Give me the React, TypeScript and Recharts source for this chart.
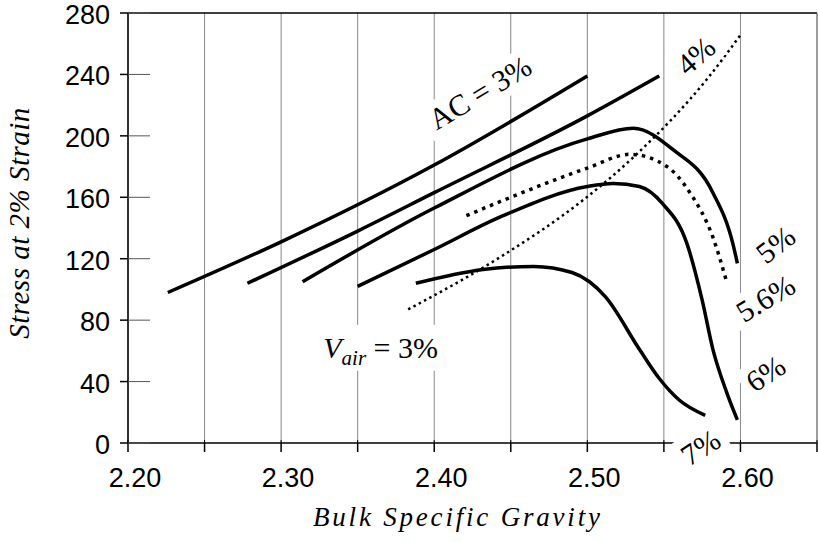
import React from "react";
import { LineChart, Line, XAxis, YAxis, CartesianGrid, ReferenceLine, ReferenceDot } from "recharts";

// axis ticks
const xTicks = [2.2, 2.25, 2.3, 2.35, 2.4, 2.45, 2.5, 2.55, 2.6, 2.65];
const xTickLabels = ["2.20", "", "2.30", "", "2.40", "", "2.50", "", "2.60", ""];
const yTicks = [0, 40, 80, 120, 160, 200, 240, 280];

// asphalt content curves (bulk specific gravity vs stress at 2% strain)
const ac3X = [2.226, 2.3, 2.4, 2.5];
const ac3Y = [98, 131, 181, 239];

const ac4X = [2.278, 2.35, 2.4, 2.5, 2.547];
const ac4Y = [104, 138, 163, 213, 239];

const ac5X = [2.314, 2.4, 2.5, 2.53, 2.556, 2.582, 2.595, 2.598];
const ac5Y = [105, 153, 198, 205, 191, 163, 130, 117];

const ac56X = [2.421, 2.445, 2.5, 2.528, 2.552, 2.567, 2.582, 2.591];
const ac56Y = [148, 158, 179, 188, 180, 163, 134, 105];

const ac6X = [2.35, 2.4, 2.445, 2.5, 2.517, 2.534, 2.549, 2.565, 2.575, 2.582, 2.591, 2.598];
const ac6Y = [102, 126, 148, 167, 169, 167, 156, 130, 93, 61, 33, 15];

const ac7X = [2.388, 2.432, 2.465, 2.49, 2.512, 2.534, 2.547, 2.56, 2.577];
const ac7Y = [104, 113, 115, 111, 95, 61, 42, 28, 18];

// air voids line
const airX = [2.383, 2.443, 2.497, 2.53, 2.579, 2.601];
const airY = [87, 121, 158, 186, 238, 267];

const toPoints = (xs: number[], ys: number[]) => xs.map((x, i) => ({ x, y: ys[i] }));

const series = [
  { key: "ac3", data: toPoints(ac3X, ac3Y), width: 3.5, dash: undefined },
  { key: "ac4", data: toPoints(ac4X, ac4Y), width: 3.5, dash: undefined },
  { key: "ac5", data: toPoints(ac5X, ac5Y), width: 3.5, dash: undefined },
  { key: "ac56", data: toPoints(ac56X, ac56Y), width: 3.5, dash: "3.5 5" },
  { key: "ac6", data: toPoints(ac6X, ac6Y), width: 3.5, dash: undefined },
  { key: "ac7", data: toPoints(ac7X, ac7Y), width: 3.5, dash: undefined },
  { key: "air", data: toPoints(airX, airY), width: 2.5, dash: "2.5 3.5" },
];

const sans = "'Liberation Sans', Arial, sans-serif";
const serif = "'Liberation Serif', 'Times New Roman', serif";

const XTick = (props: any) => {
  const { x, y, payload } = props;
  const i = xTicks.findIndex((t) => Math.abs(t - payload.value) < 1e-6);
  return (
    <g>
      <line x1={x} x2={x} y1={y - 12} y2={y - 9} stroke="#000" />
      <text x={x + 7} y={y + 35} textAnchor="middle" fontFamily={sans} fontSize={27} fill="#000">
        {i >= 0 ? xTickLabels[i] : ""}
      </text>
    </g>
  );
};

const YTick = (props: any) => {
  const { x, y, payload } = props;
  return (
    <g>
      <line x1={x + 18} x2={x + 40} y1={y} y2={y} stroke="#555" />
      <text x={x} y={y + 11} textAnchor="end" fontFamily={sans} fontSize={27} fill="#000">
        {payload.value}
      </text>
    </g>
  );
};

const RightTick = (props: any) => {
  const { x, y } = props;
  return <line x1={x - 20} x2={x} y1={y} y2={y} stroke="#555" />;
};

type Note = {
  x: number;
  y: number;
  angle: number;
  w: number;
  h: number;
  text: React.ReactNode;
};

const notes: Note[] = [
  { x: 2.43, y: 228, angle: -31, w: 128, h: 36, text: "AC = 3%" },
  { x: 2.571, y: 252, angle: -41, w: 52, h: 36, text: "4%" },
  { x: 2.623, y: 129, angle: -38, w: 52, h: 36, text: "5%" },
  { x: 2.6165, y: 94, angle: -31, w: 76, h: 36, text: "5.6%" },
  { x: 2.6165, y: 45, angle: -34, w: 52, h: 36, text: "6%" },
  { x: 2.574, y: -3, angle: -33, w: 54, h: 38, text: "7%" },
  {
    x: 2.365,
    y: 62,
    angle: 0,
    w: 130,
    h: 46,
    text: (
      <>
        <tspan fontStyle="italic">V</tspan>
        <tspan fontStyle="italic" fontSize={21} dy={7}>air</tspan>
        <tspan dy={-7}> = 3%</tspan>
      </>
    ),
  },
];

const noteShape = (note: Note) => (props: any) => {
  const { cx, cy } = props;
  return (
    <g transform={`translate(${cx},${cy}) rotate(${note.angle})`}>
      <rect x={-note.w / 2} y={-note.h / 2} width={note.w} height={note.h} fill="#fff" />
      <text x={0} y={10} textAnchor="middle" fontFamily={serif} fontSize={30} fill="#000">
        {note.text}
      </text>
    </g>
  );
};

export default function App() {
  return (
    <div style={{ position: "absolute", left: 0, top: 0, width: 818, height: 542, background: "#fff" }}>
      <LineChart width={818} height={542} margin={{ top: 13, right: 0, bottom: 0, left: 0 }}>
        <CartesianGrid horizontal={false} stroke="#888" strokeWidth={1} />
        <XAxis
          type="number"
          dataKey="x"
          domain={[2.2, 2.65]}
          ticks={xTicks}
          interval={0}
          height={99}
          tickSize={9}
          tickMargin={0}
          tick={<XTick />}
          stroke="#000"
          strokeWidth={1.5}
          allowDataOverflow
        />
        <YAxis
          type="number"
          domain={[0, 280]}
          ticks={yTicks}
          interval={0}
          width={128}
          tickSize={8}
          tickMargin={10}
          tick={<YTick />}
          stroke="#000"
          strokeWidth={1.5}
          allowDataOverflow
        />
        <YAxis
          yAxisId="r"
          orientation="right"
          type="number"
          domain={[0, 280]}
          ticks={yTicks}
          interval={0}
          width={1}
          tickSize={0}
          tickMargin={0}
          tickLine={false}
          tick={<RightTick />}
          stroke="#777"
        />
        <ReferenceLine y={280} stroke="#000" strokeWidth={1.5} />
        {series.map((s) => (
          <Line
            key={s.key}
            data={s.data}
            dataKey="y"
            type="monotone"
            stroke="#000"
            strokeWidth={s.width}
            strokeDasharray={s.dash}
            dot={false}
            activeDot={false}
            isAnimationActive={false}
          />
        ))}
        {notes.map((n, i) => (
          <ReferenceDot key={i} x={n.x} y={n.y} r={1} ifOverflow="visible" shape={noteShape(n)} />
        ))}
      </LineChart>
      <div
        style={{
          position: "absolute",
          left: 313,
          top: 502,
          fontFamily: serif,
          fontStyle: "italic",
          fontSize: 27,
          letterSpacing: 2.8,
          whiteSpace: "nowrap",
          lineHeight: "30px",
        }}
      >
        Bulk Specific Gravity
      </div>
      <div
        style={{
          position: "absolute",
          left: 19,
          top: 223,
          transform: "translate(-50%, -50%) rotate(-90deg)",
          fontFamily: serif,
          fontStyle: "italic",
          fontSize: 29,
          letterSpacing: 0.5,
          whiteSpace: "nowrap",
          lineHeight: "30px",
        }}
      >
        Stress at 2% Strain
      </div>
    </div>
  );
}
